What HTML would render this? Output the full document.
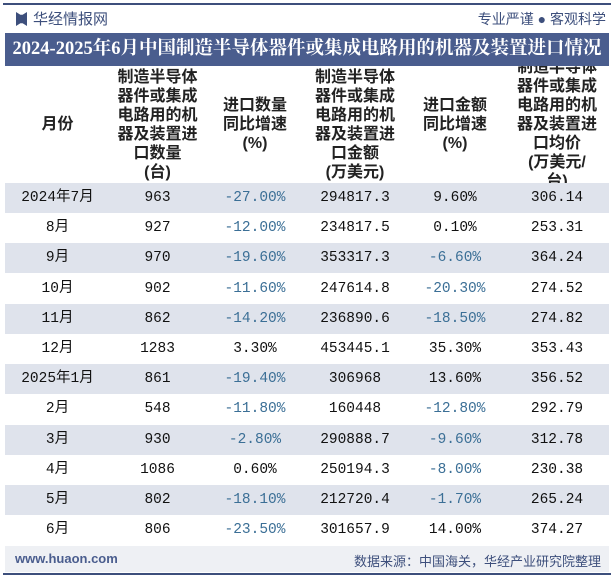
<!DOCTYPE html>
<html><head><meta charset="utf-8"><style>
*{margin:0;padding:0;box-sizing:border-box}
body{width:614px;height:578px;background:#fff;font-family:"Liberation Sans","Noto Sans CJK SC",sans-serif;position:relative;overflow:hidden}
.topline{position:absolute;left:3px;right:3px;top:3px;height:2px;background:#3d4f7c}
.botline{position:absolute;left:3px;right:3px;top:573px;height:2px;background:#3d4f7c}
.logo{position:absolute;left:16px;top:8px;font-size:15px;color:#3d4f7c}
.logo i{display:inline-block;width:11px;height:14px;background:#3d4f7c;vertical-align:-2px;margin-right:6px;clip-path:polygon(0 0,40% 20%,60% 20%,100% 0,100% 100%,60% 80%,40% 80%,0 100%)}
.slogan{position:absolute;right:8px;top:9px;font-size:14px;color:#3d4f7c}
.title{position:absolute;left:5px;right:5px;top:33px;height:33px;background:#4a5d8e;color:#fff;font-weight:bold;font-size:18.5px;line-height:33px;text-align:center;font-family:"Liberation Serif","Noto Serif CJK SC",serif;white-space:nowrap}
.head{position:absolute;left:5px;right:5px;top:66px;height:117px;overflow:hidden}
.hc{position:absolute;top:0;height:117px;display:flex;align-items:center;justify-content:center;text-align:center;font-size:16px;font-weight:bold;line-height:19px;color:#222}
.row{position:absolute;left:5px;right:5px;height:30px}
.row.g{background:#dfe3ec}
.cell{position:absolute;top:0;height:30px;line-height:30px;text-align:center;font-family:"Liberation Mono","Noto Sans CJK SC",monospace;font-size:14.5px;color:#111}
.cell.neg{color:#3b6f96}
.foot{position:absolute;left:5px;right:5px;top:546px;height:26px;background:#eef0f4}
.foot .l{position:absolute;left:10px;top:5px;font-size:13px;font-weight:bold;color:#4a5d8e}
.foot .r{position:absolute;right:8px;top:5px;font-size:13px;color:#3d4f7c}
</style></head><body>
<div class="topline"></div>
<div class="logo"><i></i>华经情报网</div>
<div class="slogan">专业严谨 ● 客观科学</div>
<div class="title">2024-2025年6月中国制造半导体器件或集成电路用的机器及装置进口情况</div>
<div class="head">
<div class="hc" style="left:0;width:105px">月份</div>
<div class="hc" style="left:105px;width:95px">制造半导体<br>器件或集成<br>电路用的机<br>器及装置进<br>口数量<br>(台)</div>
<div class="hc" style="left:200px;width:100px">进口数量<br>同比增速<br>(%)</div>
<div class="hc" style="left:300px;width:100px">制造半导体<br>器件或集成<br>电路用的机<br>器及装置进<br>口金额<br>(万美元)</div>
<div class="hc" style="left:400px;width:100px">进口金额<br>同比增速<br>(%)</div>
<div class="hc" style="left:500px;width:104px">制造半导体<br>器件或集成<br>电路用的机<br>器及装置进<br>口均价<br>(万美元/<br>台)</div>
</div>
<div id="body"></div>
<div class="foot"><span class="l">www.huaon.com</span><span class="r">数据来源：中国海关，华经产业研究院整理</span></div>
<div class="botline"></div>
<script>
const months=["2024年7月","8月","9月","10月","11月","12月","2025年1月","2月","3月","4月","5月","6月"];
const quantity=["963","927","970","902","862","1283","861","548","930","1086","802","806"];
const qtyGrowth=["-27.00%","-12.00%","-19.60%","-11.60%","-14.20%","3.30%","-19.40%","-11.80%","-2.80%","0.60%","-18.10%","-23.50%"];
const amount=["294817.3","234817.5","353317.3","247614.8","236890.6","453445.1","306968","160448","290888.7","250194.3","212720.4","301657.9"];
const amtGrowth=["9.60%","0.10%","-6.60%","-20.30%","-18.50%","35.30%","13.60%","-12.80%","-9.60%","-8.00%","-1.70%","14.00%"];
const unitPrice=["306.14","253.31","364.24","274.52","274.82","353.43","356.52","292.79","312.78","230.38","265.24","374.27"];
const colL=[0,105,200,300,400,500],colW=[105,95,100,100,100,104];
const names=['month-cell','quantity-cell','qty-growth-cell','amount-cell','amt-growth-cell','unit-price-cell'];
const body=document.getElementById('body');
months.forEach((m,i)=>{
  const r=document.createElement('div');
  r.className='row'+(i%2===0?' g':'');
  r.style.top=(183+i*30.2)+'px';
  
  
  const vals=[m,quantity[i],qtyGrowth[i],amount[i],amtGrowth[i],unitPrice[i]];
  vals.forEach((v,j)=>{
    const c=document.createElement('div');
    c.className='cell'+((j===2||j===4)&&v.startsWith('-')?' neg':'');
    c.style.left=colL[j]+'px';c.style.width=colW[j]+'px';
    c.textContent=v;
    
    
    r.appendChild(c);
  });
  body.appendChild(r);
});
</script>
</body></html>
